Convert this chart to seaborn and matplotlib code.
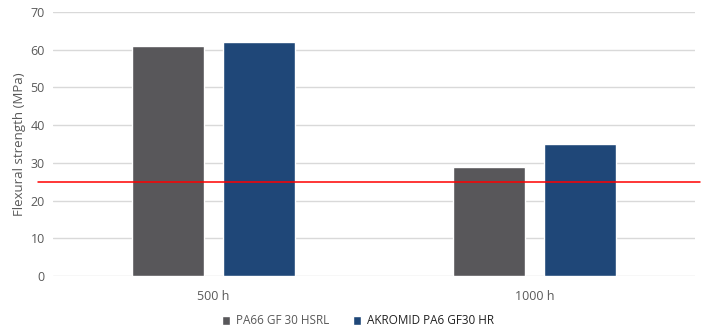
import matplotlib
matplotlib.use("Agg")
import matplotlib.pyplot as plt
import seaborn as sns
import pandas as pd

categories = ["500 h", "1000 h"]
series_names = ["PA66 GF 30 HSRL", "AKROMID PA6 GF30 HR"]
pa66_values = [61, 29]
akromid_values = [62, 35]
threshold = 25
colors = ["#58575a", "#1f4778"]

df = pd.DataFrame({
    "time": categories * 2,
    "material": [series_names[0]] * 2 + [series_names[1]] * 2,
    "value": pa66_values + akromid_values,
})

sns.set_style("white")
plt.rcParams["font.family"] = ["Open Sans", "DejaVu Sans"]

fig = plt.figure(figsize=(7.16, 3.31), dpi=100)
ax = fig.add_axes([53/716, 55/331, 642/716, 264/331])

sns.barplot(data=df, x="time", y="value", hue="material", order=categories,
            hue_order=series_names, palette=colors, width=0.567, gap=0.21,
            saturation=1, ax=ax, legend=True, zorder=3)

ax.set_ylim(0, 70)
ax.set_xlim(-0.5, 1.5)
ax.set_yticks(range(0, 71, 10))
ax.grid(axis="y", color="#d9d9d9", linewidth=1, zorder=0)
ax.set_axisbelow(True)
for s in ax.spines.values():
    s.set_visible(False)
ax.tick_params(axis="both", length=0, labelsize=9, colors="#595959", pad=6)
ax.tick_params(axis="x", pad=10)
ax.set_xlabel("")
ax.set_ylabel("Flexural strength (MPa)", fontsize=9.5, color="#595959", labelpad=3)

ax.axhline(threshold, xmin=-0.023, xmax=1.008, color="#ff0000", linewidth=1.1,
           clip_on=False, zorder=4)

handles, labels = ax.get_legend_handles_labels()
ax.legend_.remove()
leg = fig.legend(handles, labels, loc="center", bbox_to_anchor=(0.5, 10/331),
                 ncol=2, frameon=False, fontsize=8.5, handlelength=0.7,
                 handleheight=0.7, handletextpad=0.5, columnspacing=2.0)
leg.get_texts()[0].set_color("#595959")
leg.get_texts()[1].set_color("#222222")

fig.savefig("out.png", dpi=100)
